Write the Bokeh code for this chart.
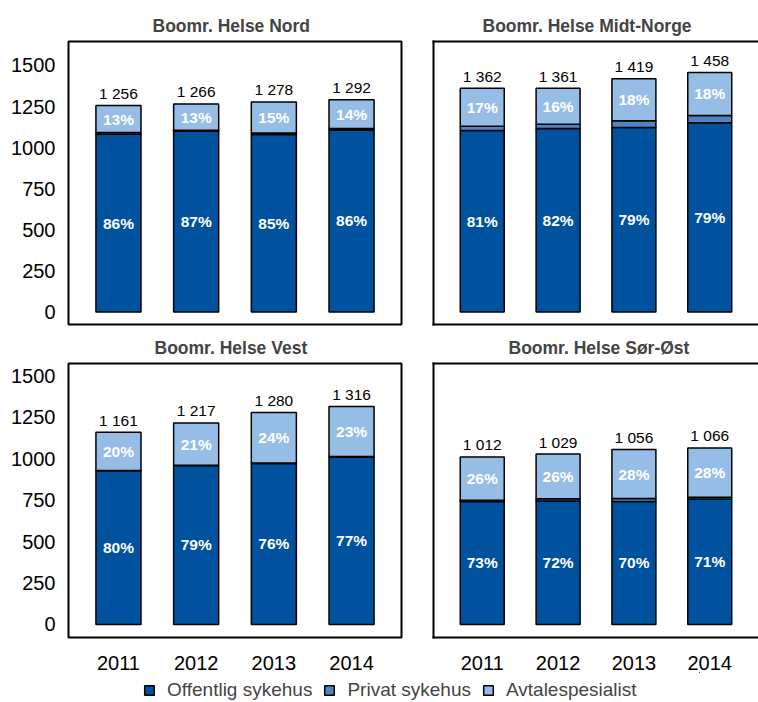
from bokeh.plotting import figure
from bokeh.models import ColumnDataSource, LinearAxis, FixedTicker, Legend, LegendItem, Range1d
from bokeh.layouts import column, row
from bokeh.core.properties import value
from bokeh.embed import file_html
from bokeh.resources import INLINE

# ---------------- data ----------------
years = [2011, 2012, 2013, 2014]
series_names = ["Offentlig sykehus", "Privat sykehus", "Avtalespesialist"]

nord_title = "Boomr. Helse Nord"
nord_off = [1082, 1100, 1080, 1108]
nord_priv = [10, 6, 10, 8]
nord_avt = [164, 160, 188, 176]
nord_total = [1256, 1266, 1278, 1292]
nord_off_pct = [86, 87, 85, 86]
nord_avt_pct = [13, 13, 15, 14]

midt_title = "Boomr. Helse Midt-Norge"
midt_off = [1104, 1116, 1122, 1152]
midt_priv = [26, 27, 42, 44]
midt_avt = [232, 218, 255, 262]
midt_total = [1362, 1361, 1419, 1458]
midt_off_pct = [81, 82, 79, 79]
midt_avt_pct = [17, 16, 18, 18]

vest_title = "Boomr. Helse Vest"
vest_off = [928, 960, 972, 1012]
vest_priv = [2, 2, 3, 3]
vest_avt = [231, 255, 305, 301]
vest_total = [1161, 1217, 1280, 1316]
vest_off_pct = [80, 79, 76, 77]
vest_avt_pct = [20, 21, 24, 23]

sor_title = "Boomr. Helse Sør-Øst"
sor_off = [742, 745, 742, 757]
sor_priv = [8, 14, 18, 11]
sor_avt = [262, 270, 296, 298]
sor_total = [1012, 1029, 1056, 1066]
sor_off_pct = [73, 72, 70, 71]
sor_avt_pct = [26, 26, 28, 28]

y_ticks = [0, 250, 500, 750, 1000, 1250, 1500]

# ---------------- style ----------------
FONT = "Liberation Sans"
C_OFF = "#00519E"
C_PRIV = "#4F86C2"
C_AVT = "#96BDE6"
FRAME_W = 2
BAR_LW = 1.5


def border_axis():
    ax = LinearAxis(ticker=FixedTicker(ticks=[]))
    ax.axis_line_color = "black"
    ax.axis_line_width = FRAME_W
    ax.axis_line_cap = "square"
    ax.major_tick_line_color = None
    ax.minor_tick_line_color = None
    ax.major_label_text_font_size = "0px"
    return ax


def panel(title, off, priv, avt, total, off_pct, avt_pct, *, yr, xr, width, height,
          mb_left, mb_right, mb_top, mb_bottom, show_y, show_x, right_side, title_offset):
    src = ColumnDataSource(dict(
        year=years, off=off, priv=priv, avt=avt, total=total,
        total_lbl=[f"{t:,}".replace(",", " ") for t in total],
        off_mid=[o / 2 for o in off],
        avt_mid=[o + p + a / 2 for o, p, a in zip(off, priv, avt)],
        off_lbl=[f"{v}%" for v in off_pct],
        avt_lbl=[f"{v}%" for v in avt_pct],
    ))
    p = figure(width=width, height=height, x_range=xr, y_range=yr,
               output_backend="svg", toolbar_location=None,
               x_axis_location="below" if show_x else None,
               y_axis_location="left" if show_y else None,
               min_border_left=mb_left, min_border_right=mb_right,
               min_border_top=mb_top, min_border_bottom=mb_bottom,
               title=title)
    p.grid.grid_line_color = None
    p.background_fill_color = "white"
    p.border_fill_color = "white"

    p.title.text_font = FONT
    p.title.text_font_size = "17.5px"
    p.title.text_font_style = "bold"
    p.title.align = "left"
    p.title.standoff = 11
    p.title.offset = title_offset

    if show_y:
        ya = p.left[0]
        ya.ticker = FixedTicker(ticks=y_ticks)
        ya.axis_line_color = None
        ya.major_tick_line_color = None
        ya.minor_tick_line_color = None
        ya.major_label_standoff = 7
        ya.major_label_text_font = FONT
        ya.major_label_text_font_size = "20px"
        ya.major_label_text_color = "black"

    if show_x:
        xa = p.below[0]
        xa.ticker = FixedTicker(ticks=years)
        if right_side:
            xa.axis_line_color = "black"
            xa.axis_line_width = FRAME_W
            xa.axis_line_cap = "square"
        else:
            xa.axis_line_color = None
        xa.major_tick_line_color = None
        xa.minor_tick_line_color = None
        xa.major_label_standoff = 12
        xa.major_label_text_font = FONT
        xa.major_label_text_font_size = "20px"
        xa.major_label_text_color = "black"

    if right_side:
        p.outline_line_color = None
        p.add_layout(border_axis(), "left")
        p.add_layout(border_axis(), "above")
        if not show_x:
            p.add_layout(border_axis(), "below")
    else:
        p.outline_line_color = "black"
        p.outline_line_width = FRAME_W

    p.vbar_stack(["off", "priv", "avt"], x="year", width=0.58, source=src,
                 fill_color=[C_OFF, C_PRIV, C_AVT], line_color="black",
                 line_width=BAR_LW)

    p.text(x="year", y="total", text="total_lbl", source=src,
           text_align="center", text_baseline="middle", y_offset=-12,
           text_font=value(FONT), text_font_size="15.5px", text_color="black")
    p.text(x="year", y="off_mid", text="off_lbl", source=src,
           text_align="center", text_baseline="middle",
           text_font=value(FONT), text_font_size="15.5px", text_font_style="bold",
           text_color="white")
    p.text(x="year", y="avt_mid", text="avt_lbl", source=src,
           text_align="center", text_baseline="middle",
           text_font=value(FONT), text_font_size="15.5px", text_font_style="bold",
           text_color="white")
    return p


top_y = (-76, 1646)
bot_y = (-79, 1576)
left_x = (2010.357, 2014.643)
right_x = (2010.357, 2014.643)

tl = panel(nord_title, nord_off, nord_priv, nord_avt, nord_total, nord_off_pct, nord_avt_pct,
           yr=Range1d(*top_y), xr=Range1d(*left_x), width=417, height=330,
           mb_left=68, mb_right=16, mb_top=41, mb_bottom=6,
           show_y=True, show_x=False, right_side=False, title_offset=84)
tr = panel(midt_title, midt_off, midt_priv, midt_avt, midt_total, midt_off_pct, midt_avt_pct,
           yr=Range1d(*top_y), xr=Range1d(*right_x), width=341, height=330,
           mb_left=16, mb_right=0, mb_top=41, mb_bottom=6,
           show_y=False, show_x=False, right_side=True, title_offset=49)
bl = panel(vest_title, vest_off, vest_priv, vest_avt, vest_total, vest_off_pct, vest_avt_pct,
           yr=Range1d(*bot_y), xr=Range1d(*left_x), width=417, height=342,
           mb_left=68, mb_right=16, mb_top=27, mb_bottom=32,
           show_y=True, show_x=True, right_side=False, title_offset=86)
br = panel(sor_title, sor_off, sor_priv, sor_avt, sor_total, sor_off_pct, sor_avt_pct,
           yr=Range1d(*bot_y), xr=Range1d(*right_x), width=341, height=342,
           mb_left=16, mb_right=0, mb_top=27, mb_bottom=32,
           show_y=False, show_x=True, right_side=True, title_offset=75)

# ---------------- legend ----------------
lg = figure(width=700, height=30, x_range=Range1d(1990, 1991), y_range=Range1d(-20, -10),
            output_backend="svg", toolbar_location=None,
            x_axis_location=None, y_axis_location=None,
            min_border_left=0, min_border_right=0, min_border_top=0, min_border_bottom=0)
lg.grid.grid_line_color = None
lg.outline_line_color = None
items = []
for name, col, vals in zip(series_names, [C_OFF, C_PRIV, C_AVT], [nord_off, nord_priv, nord_avt]):
    # drawn outside the view ranges; only its legend swatch is visible
    r = lg.vbar(x=years, top=vals, width=0.1, fill_color=col, line_color="black",
                line_width=BAR_LW)
    items.append(LegendItem(label=name, renderers=[r]))
legend = Legend(items=items, orientation="horizontal", location=(143, 1),
                padding=0, margin=0, border_line_color=None, background_fill_alpha=0,
                glyph_width=12, glyph_height=12, label_standoff=12, spacing=11,
                label_text_font=FONT, label_text_font_size="19px", label_height=20)
lg.add_layout(legend)

layout = column(row(tl, tr), row(bl, br), lg)

with open("out.html", "w") as f:
    f.write(file_html(layout, INLINE))
